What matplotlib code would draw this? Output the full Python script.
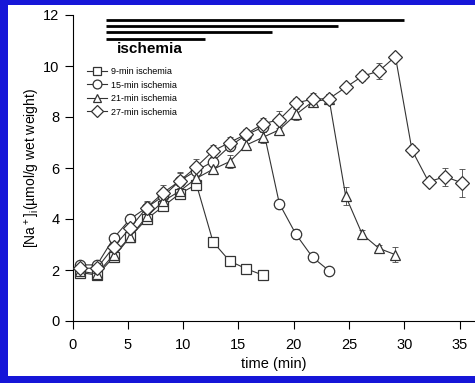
import matplotlib
matplotlib.use("Agg")
import matplotlib.pyplot as plt
from matplotlib.patches import Rectangle

plt.rcParams['font.family'] = ['Liberation Sans', 'DejaVu Sans']
plt.rcParams['mathtext.fontset'] = 'custom'
plt.rcParams['mathtext.rm'] = 'Liberation Sans'
plt.rcParams['mathtext.default'] = 'regular'

# sampling times (min)
t9 = [0.7, 2.2, 3.7, 5.2, 6.7, 8.2, 9.7, 11.2, 12.7, 14.2, 15.7, 17.2]
t15 = [0.7, 2.2, 3.7, 5.2, 6.7, 8.2, 9.7, 11.2, 12.7, 14.2, 15.7, 17.2,
       18.7, 20.2, 21.7, 23.2]
t21 = [0.7, 2.2, 3.7, 5.2, 6.7, 8.2, 9.7, 11.2, 12.7, 14.2, 15.7, 17.2,
       18.7, 20.2, 21.7, 23.2, 24.7, 26.2, 27.7, 29.2]
t27 = [0.7, 2.2, 3.7, 5.2, 6.7, 8.2, 9.7, 11.2, 12.7, 14.2, 15.7, 17.2,
       18.7, 20.2, 21.7, 23.2, 24.7, 26.2, 27.7, 29.2, 30.7, 32.2, 33.7, 35.2]

# [Na+]i means and errors
na9 = [1.9, 1.8, 2.5, 3.3, 4.0, 4.5, 5.0, 5.35, 3.1, 2.35, 2.05, 1.8]
err9 = [0.1, 0.1, 0.15, 0.15, 0.15, 0.15, 0.2, 0.15, 0.15, 0.1, 0.1, 0.1]
na15 = [2.2, 2.2, 3.25, 4.0, 4.45, 4.9, 5.5, 5.9, 6.25, 6.85, 7.3, 7.6,
        4.6, 3.4, 2.5, 1.97]
err15 = [0.1, 0.1, 0.15, 0.2, 0.2, 0.2, 0.3, 0.25, 0.2, 0.2, 0.2, 0.2,
         0.15, 0.2, 0.1, 0.1]
na21 = [1.95, 1.85, 2.6, 3.3, 4.1, 4.7, 5.1, 5.6, 5.95, 6.25, 6.9, 7.2,
        7.5, 8.1, 8.6, 8.7, 4.9, 3.4, 2.85, 2.6]
err21 = [0.1, 0.1, 0.15, 0.15, 0.15, 0.2, 0.2, 0.2, 0.2, 0.25, 0.2, 0.2,
         0.2, 0.2, 0.2, 0.2, 0.35, 0.15, 0.15, 0.3]
na27 = [2.07, 2.07, 2.9, 3.65, 4.45, 5.03, 5.5, 6.05, 6.67, 7.0, 7.33, 7.73,
        7.9, 8.55, 8.7, 8.72, 9.16, 9.6, 9.8, 10.37, 6.7, 5.46, 5.66, 5.42]
err27 = [0.1, 0.1, 0.15, 0.2, 0.25, 0.3, 0.35, 0.3, 0.25, 0.2, 0.2, 0.25,
         0.35, 0.2, 0.25, 0.2, 0.15, 0.2, 0.3, 0.15, 0.2, 0.15, 0.35, 0.55]

labels = ['9-min ischemia', '15-min ischemia', '21-min ischemia',
          '27-min ischemia']
markers = ['s', 'o', '^', 'D']
msizes = [6.5, 7.5, 7.5, 7.5]

# ischemia periods (start, end) and bar heights on the y scale
isch_start = 3
isch_end = [12, 18, 24, 30]
isch_y = [11.07, 11.32, 11.58, 11.8]

fig = plt.figure(figsize=(4.75, 3.83), dpi=100, facecolor='#1616d8')
fig.patches.append(Rectangle((8 / 475, 7 / 383), 1 - 8 / 475, 371 / 383,
                             transform=fig.transFigure, facecolor='white',
                             edgecolor='none', zorder=-10))
ax = fig.add_axes([72.7 / 475, 62 / 383, (475 - 72.7) / 475, 306 / 383])
ax.set_facecolor('none')

series = [(t9, na9, err9), (t15, na15, err15), (t21, na21, err21),
          (t27, na27, err27)]
for (t, y, e), lab, m, ms in zip(series, labels, markers, msizes):
    ax.errorbar(t, y, yerr=e, fmt='none', ecolor='#444444', elinewidth=0.6,
                capsize=2, capthick=0.6, zorder=2)
    ax.plot(t, y, marker=m, ms=ms, color='#333333', lw=0.8,
            mfc='white', mec='#333333', mew=0.9, label=lab, zorder=3)

for xe, yb in zip(isch_end, isch_y):
    ax.hlines(yb, isch_start, xe, color='black', lw=2.0, clip_on=False)
ax.text(4.0, 10.67, 'ischemia', fontsize=11, fontweight='bold', va='center')

ax.set_xlim(0, 36.4)
ax.set_ylim(0, 12)
ax.set_xticks(range(0, 36, 5))
ax.set_yticks(range(0, 13, 2))
for s in ['top', 'right']:
    ax.spines[s].set_visible(False)
ax.spines['left'].set_linewidth(0.8)
ax.spines['bottom'].set_linewidth(0.8)
ax.tick_params(axis='both', labelsize=10.5, width=0.8, length=5.5)
ax.tick_params(axis='x', pad=7)
ax.tick_params(axis='y', pad=4)
ax.set_xlabel('time (min)', fontsize=10.5, labelpad=3)
ax.set_ylabel('[Na$^+$]$_i$(µmol/g wet weight)', fontsize=10, labelpad=1)

ax.legend(loc='upper left', bbox_to_anchor=(0.035, 0.83), frameon=False,
          fontsize=6.5, handlelength=2.2, handletextpad=0.5,
          labelspacing=0.5, borderpad=0, borderaxespad=0, markerscale=0.85)

fig.savefig('out.png', dpi=100, facecolor=fig.get_facecolor())
